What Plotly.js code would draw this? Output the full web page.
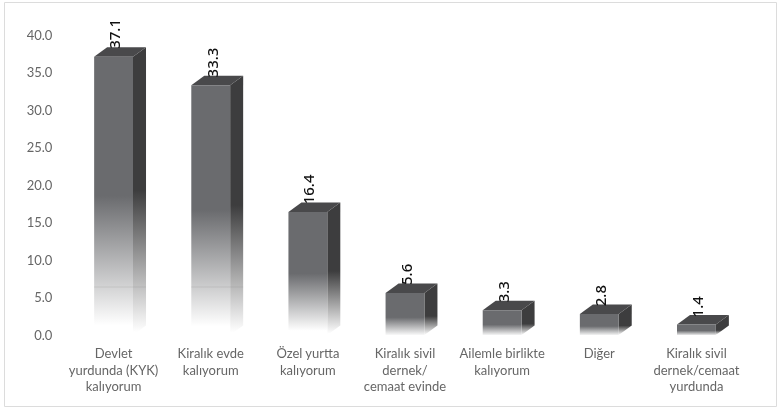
<!DOCTYPE html>
<html>
<head>
<meta charset="utf-8">
<script src="https://cdn.plot.ly/plotly-3.0.1.min.js"></script>
<style>
html,body{margin:0;padding:0;background:#fff;overflow:hidden}
#chart{width:783px;height:410px;filter:blur(0.5px)}
</style>
</head>
<body>
<div id="chart"></div>
<script>
// Data
var categories = [
  "Devlet<br>yurdunda (KYK)<br>kalıyorum",
  "Kiralık evde<br>kalıyorum",
  "Özel yurtta<br>kalıyorum",
  "Kiralık sivil<br>dernek/<br>cemaat evinde",
  "Ailemle birlikte<br>kalıyorum",
  "Diğer",
  "Kiralık sivil<br>dernek/cemaat<br>yurdunda"
];
var values = [37.1, 33.3, 16.4, 5.6, 3.3, 2.8, 1.4];
var valueLabels = ["37.1", "33.3", "16.4", "5.6", "3.3", "2.8", "1.4"];
var yTicks = [0, 5, 10, 15, 20, 25, 30, 35, 40];
var yTickLabels = ["0.0", "5.0", "10.0", "15.0", "20.0", "25.0", "30.0", "35.0", "40.0"];
var seamLevel = 6.4;
var seamBars = [0, 1];

// Drawing settings
var W = 783, H = 410, M = {l: 65, r: 38, t: 35, b: 75, pad: 0};
var halfBar = 0.2, depthX = 0.134, depthY = 1.27;
var FRONT = "#6a6b6e", SIDE = "#3d3d3e", TOP = "#49494b", TEXT = "#666666";
var traces = [];

function face(xs, ys, color, gradient) {
  var t = {
    type: "scatter", mode: "lines", x: xs, y: ys, fill: "toself",
    line: {width: 0, color: color}, hoverinfo: "skip", showlegend: false
  };
  if (gradient) {
    t.fillgradient = {
      type: "vertical", start: gradient[0], stop: gradient[1],
      colorscale: [[0, "#ffffff"], [1, color]]
    };
  } else {
    t.fillcolor = color;
  }
  return t;
}

values.forEach(function (v, i) {
  var a = i - halfBar, b = i + halfBar;
  var tall = v > 10;
  traces.push(face([b, b + depthX, b + depthX, b, b], [0, depthY, v + depthY, v, 0], SIDE,
    [tall ? 0.01 * v : 0, tall ? 0.52 * v : 0.45 * v]));
  traces.push(face([a, b, b + depthX, a + depthX, a], [v, v, v + depthY, v + depthY, v], TOP));
  traces.push(face([a, b, b, a, a], [0, 0, v, v, 0], FRONT,
    [tall ? 0.035 * v : -0.1, tall ? 0.5 * v : 0.42 * v]));
});

seamBars.forEach(function (i) {
  traces.push({
    type: "scatter", mode: "lines",
    x: [i - halfBar, i + halfBar + depthX], y: [seamLevel, seamLevel],
    line: {width: 1, color: "rgba(120,120,120,0.18)"}, hoverinfo: "skip", showlegend: false
  });
});

var annotations = values.map(function (v, i) {
  return {
    x: i, y: v + depthY, xref: "x", yref: "y", text: valueLabels[i],
    showarrow: false, textangle: -90, xanchor: "center", yanchor: "bottom",
    xshift: 1, yshift: -2, borderpad: 0, borderwidth: 0,
    font: {family: "Noto Sans, sans-serif", size: 15, color: "#111111", weight: 500}
  };
});

var plotW = W - M.l - M.r, plotH = H - M.t - M.b;
var layout = {
  width: W, height: H, margin: M,
  paper_bgcolor: "#ffffff", plot_bgcolor: "#ffffff", showlegend: false,
  font: {family: "Lato, sans-serif", size: 13, color: TEXT},
  xaxis: {
    range: [-0.5, 6.5], tickmode: "array", tickvals: categories.map(function (c, i) { return i; }),
    ticktext: categories, tickangle: 0, showgrid: false, zeroline: false, showline: false,
    ticks: "outside", ticklen: 6, tickcolor: "rgba(0,0,0,0)", fixedrange: true,
    tickfont: {family: "Lato, sans-serif", size: 13, color: TEXT}
  },
  yaxis: {
    range: [0, 40], tickmode: "array", tickvals: yTicks, ticktext: yTickLabels,
    showgrid: false, zeroline: false, showline: false,
    ticks: "outside", ticklen: 9, tickcolor: "rgba(0,0,0,0)", fixedrange: true,
    tickfont: {family: "Lato, sans-serif", size: 13, color: TEXT}
  },
  annotations: annotations,
  shapes: [{
    type: "rect", xref: "paper", yref: "paper", layer: "below",
    x0: (4.5 - M.l) / plotW, x1: (776.5 - M.l) / plotW,
    y0: (H - 406.5 - M.b) / plotH, y1: (H - 2.5 - M.b) / plotH,
    line: {color: "#dcdcdc", width: 1}, fillcolor: "rgba(0,0,0,0)"
  }]
};
Plotly.newPlot("chart", traces, layout, {displayModeBar: false, staticPlot: true});
</script>
</body>
</html>
